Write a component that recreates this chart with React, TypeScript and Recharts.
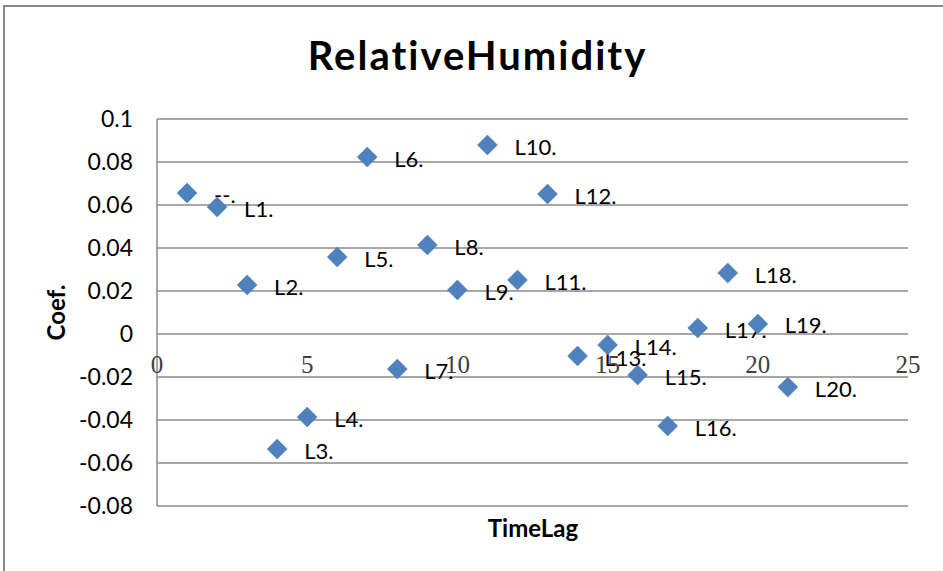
import { ScatterChart, Scatter, XAxis, YAxis, CartesianGrid, ReferenceDot } from 'recharts'

const lags = [1, 2, 3, 4, 5, 6, 7, 8, 9, 10, 11, 12, 13, 14, 15, 16, 17, 18, 19, 20, 21]
const coefs = [
  0.0656, 0.0591, 0.0228, -0.0535, -0.0386, 0.0358, 0.0823, -0.0163, 0.0414, 0.0205, 0.0879,
  0.0251, 0.0651, -0.0102, -0.0051, -0.0191, -0.0428, 0.0028, 0.0284, 0.0047, -0.0247,
]
const names = [
  '--.', 'L1.', 'L2.', 'L3.', 'L4.', 'L5.', 'L6.', 'L7.', 'L8.', 'L9.', 'L10.',
  'L11.', 'L12.', 'L13.', 'L14.', 'L15.', 'L16.', 'L17.', 'L18.', 'L19.', 'L20.',
]
const yTicks = [-0.08, -0.06, -0.04, -0.02, 0, 0.02, 0.04, 0.06, 0.08, 0.1]
const xTicks = [0, 5, 10, 15, 20, 25]

const data = lags.map((lag, i) => ({ lag, coef: coefs[i], name: names[i] }))

const FONT = 'Lato, "Liberation Sans", sans-serif'
const GRID = '#8a8a8a'
const BLUE = '#4f81bd'

// diamond marker + its label, drawn together so later markers cover earlier labels
const Diamond = (props: any) => {
  const { cx, cy, payload } = props
  const r = 10
  return (
    <g>
      <polygon
        points={`${cx},${cy - r} ${cx + r},${cy} ${cx},${cy + r} ${cx - r},${cy}`}
        fill={BLUE}
        stroke="#4a7ab3"
        strokeWidth={0.5}
      />
      <text x={cx + 27} y={cy + 4} dominantBaseline="middle" fontSize={22} fontFamily={FONT} fill="#000">
        {payload.name}
      </text>
    </g>
  )
}

export default function App() {
  return (
    <div style={{ position: 'absolute', left: 0, top: 0, width: 943, height: 571, overflow: 'hidden', background: '#fff' }}>
      <div
        style={{
          position: 'absolute',
          left: 3,
          top: 5,
          width: 980,
          height: 600,
          border: '2px solid #888',
          boxSizing: 'border-box',
        }}
      />
      <div
        style={{
          position: 'absolute',
          left: 0,
          width: 943,
          top: 31,
          textAlign: 'center',
          fontFamily: FONT,
          fontWeight: 700,
          fontSize: 40,
          letterSpacing: 2,
          paddingLeft: 12,
          boxSizing: 'border-box',
        }}
      >
        RelativeHumidity
      </div>
      <div
        style={{
          position: 'absolute',
          left: 473,
          width: 120,
          top: 513,
          textAlign: 'center',
          fontFamily: FONT,
          fontWeight: 700,
          fontSize: 24,
        }}
      >
        TimeLag
      </div>
      <div
        style={{
          position: 'absolute',
          left: 5,
          width: 100,
          top: 298,
          textAlign: 'center',
          fontFamily: FONT,
          fontWeight: 700,
          fontSize: 24,
          transform: 'rotate(-90deg)',
        }}
      >
        Coef.
      </div>
      <div style={{ position: 'absolute', left: 0, top: 0 }}>
        <ScatterChart width={943} height={571} margin={{ top: 119, right: 35, bottom: 65, left: 20 }}>
          <CartesianGrid horizontal vertical={false} stroke={GRID} strokeWidth={1.5} />
          <XAxis type="number" dataKey="lag" domain={[0, 25]} ticks={xTicks} hide />
          <YAxis
            type="number"
            dataKey="coef"
            domain={[-0.08, 0.1]}
            ticks={yTicks}
            width={137}
            axisLine={{ stroke: GRID, strokeWidth: 1.5 }}
            tickLine={false}
            tickMargin={18}
            tick={{ fontSize: 23, fill: '#000', fontFamily: FONT }}
            tickFormatter={(v: number) => String(Number(v.toFixed(2)))}
            allowDataOverflow
          />
          {xTicks.map((t) => (
            <ReferenceDot
              key={t}
              x={t}
              y={0}
              r={0}
              fill="none"
              stroke="none"
              label={{
                value: String(t),
                position: 'bottom',
                offset: 21,
                fontSize: 25,
                fill: '#404040',
                fontFamily: '"Liberation Serif", serif',
              }}
            />
          ))}
          <Scatter data={data} shape={Diamond} isAnimationActive={false} />
        </ScatterChart>
      </div>
    </div>
  )
}
